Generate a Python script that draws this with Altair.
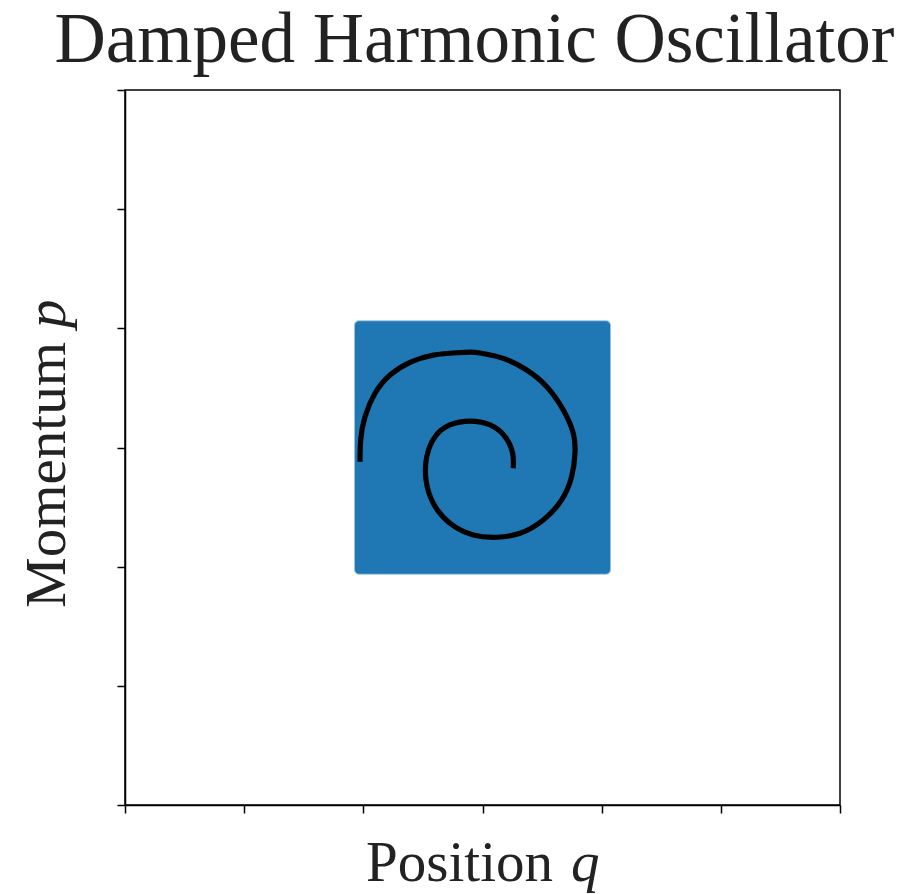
import altair as alt
import pandas as pd

# Spiral trajectory (q, p)
spiral_q = [-1.028, -1.022, -0.986, -0.902, -0.776, -0.608, -0.413, -0.216, -0.100, -0.021, 0.174, 0.371,
            0.539, 0.678, 0.762, 0.776, 0.748, 0.664, 0.510, 0.315, 0.119, -0.077, -0.273, -0.413,
            -0.474, -0.468, -0.398, -0.273, -0.105, 0.063, 0.189, 0.253, 0.258]
spiral_p = [-0.119, 0.063, 0.258, 0.455, 0.608, 0.715, 0.775, 0.795, 0.800, 0.793, 0.748, 0.650,
            0.510, 0.315, 0.119, -0.049, -0.245, -0.440, -0.608, -0.720, -0.753, -0.734, -0.636, -0.468,
            -0.273, -0.077, 0.091, 0.189, 0.222, 0.189, 0.091, -0.049, -0.174]

# Initial-condition region (filled square of samples)
square_q = [-1.07, 1.07]
square_p = [-1.06, 1.06]

ticks = [-3, -2, -1, 0, 1, 2, 3]

spiral = pd.DataFrame({"q": spiral_q, "p": spiral_p, "i": list(range(len(spiral_q)))})
square = pd.DataFrame({"q": [square_q[0]], "q2": [square_q[1]], "p": [square_p[0]], "p2": [square_p[1]]})

xscale = alt.Scale(domain=[-3, 3], nice=False, zero=False)
yscale = alt.Scale(domain=[-3, 3], nice=False, zero=False)

font = "Liberation Serif"
tcol = "#222222"
lab_size = 57

axis_common = dict(values=ticks, labels=False, grid=False, tickSize=8, tickWidth=1.5, tickColor="black",
                   domainColor="black", domainWidth=1.5, title=None)

rect = alt.Chart(square).mark_rect(color="#1f77b4", cornerRadius=4, stroke="#1f77b4",
                                   strokeOpacity=0.45, strokeWidth=2).encode(
    x=alt.X("q:Q", scale=xscale, axis=alt.Axis(**axis_common)),
    x2="q2",
    y=alt.Y("p:Q", scale=yscale, axis=alt.Axis(**axis_common)),
    y2="p2",
)

line = alt.Chart(spiral).mark_line(color="black", strokeWidth=5.2, interpolate="natural",
                                   strokeCap="butt").encode(
    x=alt.X("q:Q", scale=xscale),
    y=alt.Y("p:Q", scale=yscale),
    order="i:Q",
)

# Axis titles with an italic variable name
one = pd.DataFrame({"k": [0]})
xt1 = alt.Chart(one).mark_text(text="Position", font=font, fontSize=lab_size, color=tcol,
                               align="right", baseline="alphabetic").encode(
    x=alt.value(428), y=alt.value(791))
xt2 = alt.Chart(one).mark_text(text="q", font=font, fontSize=lab_size, fontStyle="italic", color=tcol,
                               align="left", baseline="alphabetic").encode(
    x=alt.value(446), y=alt.value(791))
yt1 = alt.Chart(one).mark_text(text="Momentum", font=font, fontSize=lab_size, color=tcol,
                               align="right", baseline="alphabetic", angle=270).encode(
    x=alt.value(-60), y=alt.value(252))
yt2 = alt.Chart(one).mark_text(text="p", font=font, fontSize=lab_size, fontStyle="italic", color=tcol,
                               align="left", baseline="alphabetic", angle=270).encode(
    x=alt.value(-60), y=alt.value(238))

chart = alt.layer(rect, line, xt1, xt2, yt1, yt2).properties(
    width=715, height=715,
    title=alt.TitleParams("Damped Harmonic Oscillator", font=font, fontSize=71, fontWeight="normal",
                          color=tcol, offset=12, anchor="middle", dx=-8),
    autosize=alt.AutoSizeParams(type="none"),
    padding={"left": 125, "top": 90, "right": 74, "bottom": 89},
).configure_view(stroke="black", strokeWidth=1.5)

chart.save("out.html", embed_options={"renderer": "svg", "actions": False})
